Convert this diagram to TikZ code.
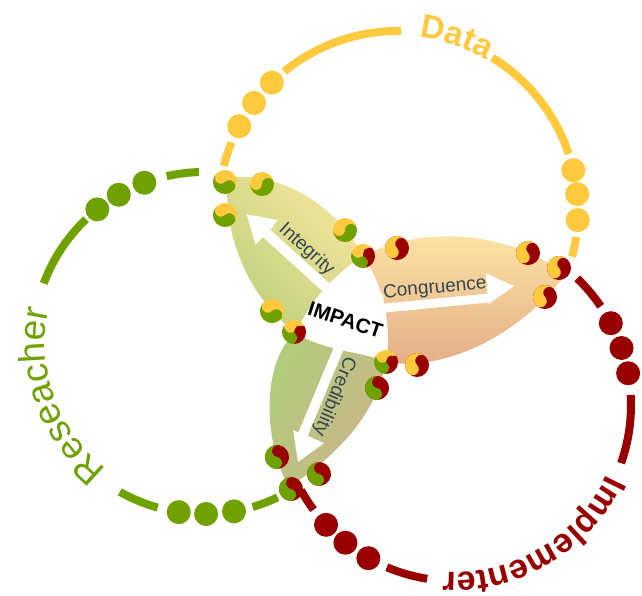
\documentclass[tikz,border=0pt]{standalone}
\usepackage{fontspec}
\setmainfont{Liberation Sans}
\usetikzlibrary{decorations.text}
\definecolor{cY}{RGB}{255,201,61}
\definecolor{cG}{RGB}{111,161,0}
\definecolor{cR}{RGB}{153,0,0}
\definecolor{slate}{RGB}{55,71,79}
\definecolor{iY}{RGB}{247,230,156}
\definecolor{iG}{RGB}{190,208,125}
\definecolor{kT}{RGB}{253,231,166}
\definecolor{kB}{RGB}{228,170,134}
\definecolor{rG}{RGB}{176,205,123}
\definecolor{rT}{RGB}{204,180,138}
\newcommand\ringarc[5]{\draw[line width=8pt,#1] (#2) ++(#3:#5) arc[start angle=#3,end angle=#4,radius=#5];}
\newcommand\ringdot[4]{\fill[#1] (#2) ++(#3:#4) circle[radius=12];}
\def\petalI{(228,178) .. controls (280,170) and (340,208) .. (362.6,256.4) arc[start angle=238.1, end angle=204.5, radius=175] .. controls (250,300) and (222,235) .. (228,178) -- cycle}
\def\petalC{(362.6,256.4) .. controls (420,225) and (510,230) .. (565,275) .. controls (520,335) and (445,372) .. (386,362) .. controls (392,330) and (385,285) .. (362.6,256.4) -- cycle}
\def\petalR{(295.8,332.4) .. controls (262,360) and (262,440) .. (289,487) .. controls (330,460) and (375,420) .. (386,362) .. controls (365,352) and (318,350) .. (295.8,332.4) -- cycle}
\tikzset{
  pics/yy/.style args={#1/#2/#3}{code={
    \begin{scope}[rotate=#3, yscale=-1]
      \fill[#2] (0,0) circle[radius=12];
      \fill[#1] (0,12) arc[start angle=90, end angle=270, radius=12]
        arc[start angle=270, end angle=450, radius=6]
        arc[start angle=270, end angle=90, radius=6] -- cycle;
    \end{scope}
  }},
  pics/tri/.style={code={
    \begin{scope}[rotate=#1, yscale=-1]
      \fill[cY] (0,0) .. controls (70:7) .. (30:12) arc[start angle=30, end angle=150, radius=12] .. controls (190:7) .. (0,0);
      \fill[cG] (0,0) .. controls (190:7) .. (150:12) arc[start angle=150, end angle=270, radius=12] .. controls (310:7) .. (0,0);
      \fill[cR] (0,0) .. controls (310:7) .. (270:12) arc[start angle=270, end angle=390, radius=12] .. controls (70:7) .. (0,0);
    \end{scope}
  }},
  shI/.style={top color=iY, bottom color=iG, shading angle=-45},
  shC/.style={top color=kT, bottom color=kB},
  shR/.style={top color=rG, bottom color=rT, shading angle=60},
  lbl/.style={text=slate, font=\fontsize{19}{19}\selectfont, inner sep=0pt},
  lbox/.style={inner sep=0pt, outer sep=0pt},
}
\begin{document}
\begin{tikzpicture}[x=1pt, y=-1pt]
\useasboundingbox (0,0) rectangle (642,595);
\fill[white] (0,0) rectangle (642,595);

% ring arcs
\ringarc{cY}{398,211}{194.5}{202.4}{180}
\ringarc{cY}{398,211}{230.8}{271}{180}
\ringarc{cY}{398,211}{301.6}{341.5}{180}
\ringarc{cY}{398,211}{368.3}{374.7}{180}
\ringarc{cG}{204,343}{257.4}{268.3}{171}
\ringarc{cG}{204,343}{200.4}{226.4}{171}
\ringarc{cG}{204,343}{105.7}{119.5}{171}
\ringarc{cG}{204,343}{64.5}{73.5}{171}
\ringarc{cR}{455,405}{314}{325.9}{176}
\ringarc{cR}{455,405}{356.7}{379.3}{176}
\ringarc{cR}{455,405}{99.1}{112.8}{176}
\ringarc{cR}{455,405}{143.5}{151}{176}

% petals
\shade[shI] \petalI;
\shade[shC] \petalC;
\shade[shR] \petalR;

% arrows and label boxes
\begin{scope}[shift={(246.7,214.3)}, rotate=-42.2]
  \fill[white] (0,0) -- (27,16.7) -- (27,6) -- (115,6) -- (115,-10) -- (27,-10) -- (27,-16.7) -- cycle;
  \node[lbox, rotate=-42.2, minimum width=80pt, minimum height=19pt] (bI) at (68,-14) {};
\end{scope}
\begin{scope}[shift={(514,286)}, rotate=-174.5]
  \fill[white] (0,0) -- (27,15.5) -- (27,5) -- (140,5) -- (140,-14) -- (27,-14) -- (27,-15.5) -- cycle;
  \node[lbox, rotate=5.5, minimum width=104pt, minimum height=20pt] (bC) at (79,5) {};
\end{scope}
\begin{scope}[shift={(298,462)}, rotate=67.4]
  \fill[white] (0,0) -- (27.6,16.8) -- (27.6,5) -- (125,5) -- (125,-11) -- (27.6,-11) -- (27.6,-16.8) -- cycle;
  \node[lbox, rotate=-112.6, minimum width=93pt, minimum height=18pt] (bR) at (74.5,8) {};
\end{scope}
\begin{scope}
  \clip (bI.north west) -- (bI.north east) -- (bI.south east) -- (bI.south west) -- cycle;
  \shade[shI] \petalI;
\end{scope}
\begin{scope}
  \clip (bC.north west) -- (bC.north east) -- (bC.south east) -- (bC.south west) -- cycle;
  \shade[shC] \petalC;
\end{scope}
\begin{scope}
  \clip (bR.north west) -- (bR.north east) -- (bR.south east) -- (bR.south west) -- cycle;
  \shade[shR] \petalR;
\end{scope}
\node[lbl, rotate=-42.2] (tI) at (bI.center) {Integrity};
\node[lbl, rotate=5.5] (tC) at (bC.center) {Congruence};
\node[lbl, rotate=-112.6] (tR) at (bR.center) {Credibility};
\node[font=\bfseries\fontsize{20.5}{20.5}\selectfont, rotate=-18.4, inner sep=0pt] (impact) at (345.5,320) {IMPACT};

% circle labels
\path[decorate, decoration={text along path, text align=center, text color=cY,
  text={|\fontsize{33}{33}\selectfont\bfseries|Data}}]
  (398,211) ++(268.7:175) arc[start angle=268.7, end angle=308.7, radius=175];
\path[decorate, decoration={text along path, text align=center, text color=cG,
  text={|\fontsize{37}{37}\selectfont|Reseacher}}]
  (204,343) ++(119:159) arc[start angle=119, end angle=201, radius=159];
\path[decorate, decoration={text along path, text align=center, text color=cR,
  text={|\fontsize{34}{34}\selectfont\bfseries|Implementer}}]
  (455,405) ++(18:167) arc[start angle=18, end angle=100.6, radius=167];

% plain dots
\ringdot{cY}{398,211}{208.1}{180}
\ringdot{cY}{398,211}{216.9}{180}
\ringdot{cY}{398,211}{225.5}{180}
\ringdot{cY}{398,211}{346.9}{180}
\ringdot{cY}{398,211}{354.6}{180}
\ringdot{cY}{398,211}{362.9}{180}
\ringdot{cG}{204,343}{231.4}{171}
\ringdot{cG}{204,343}{240.1}{171}
\ringdot{cG}{204,343}{249.6}{171}
\ringdot{cG}{204,343}{79.9}{171}
\ringdot{cG}{204,343}{89.3}{171}
\ringdot{cG}{204,343}{98.5}{171}
\ringdot{cR}{455,405}{332.3}{176}
\ringdot{cR}{455,405}{341.1}{176}
\ringdot{cR}{455,405}{349.6}{176}
\ringdot{cR}{455,405}{119.5}{176}
\ringdot{cR}{455,405}{128.5}{176}
\ringdot{cR}{455,405}{137.1}{176}

% two-colour dots
\pic at (225,182) {yy={cG/cY/45}};
\pic at (262,184) {yy={cG/cY/90}};
\pic at (225,215) {yy={cG/cY/45}};
\pic at (345,230) {yy={cG/cY/90}};
\pic at (272,311) {yy={cG/cY/45}};
\pic at (397,248) {yy={cY/cR/-45}};
\pic at (528,253) {yy={cY/cR/-45}};
\pic at (559,268) {yy={cY/cR/-45}};
\pic at (545,297) {yy={cY/cR/-45}};
\pic at (417,365) {yy={cY/cR/-45}};
\pic at (377,388) {yy={cG/cR/-10}};
\pic at (277,457) {yy={cG/cR/-10}};
\pic at (319,474) {yy={cG/cR/-10}};
\pic at (291,489) {yy={cG/cR/-10}};

% three-colour dots
\pic at (294,332) {tri=0};
\pic at (363,256) {tri=15};
\pic at (386,362) {tri=0};
\end{tikzpicture}
\end{document}
